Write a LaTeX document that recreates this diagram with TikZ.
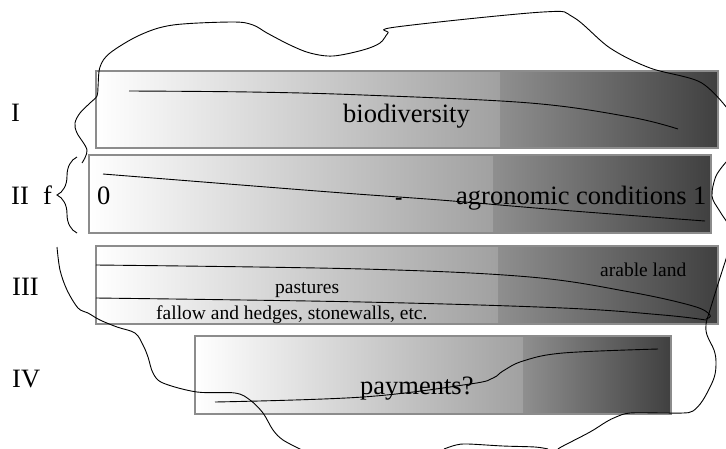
\documentclass[tikz,border=0pt]{standalone}
\usepackage{fontspec}
\setmainfont{Liberation Serif}
\usetikzlibrary{decorations.pathreplacing}
\definecolor{gA}{gray}{0.63}
\definecolor{gB}{gray}{0.56}
\definecolor{gC}{gray}{0.25}
\definecolor{rim}{gray}{0.55}
\tikzset{
  big/.style={font=\fontsize{26.5}{30}\selectfont, inner sep=0pt, anchor=base west},
  small/.style={font=\fontsize{19.5}{22}\selectfont, inner sep=0pt, anchor=base west},
  hand/.style={draw=black, line width=0.9pt, smooth, tension=0.55},
  inner/.style={draw=black, line width=0.9pt, smooth, tension=0.6},
}
\begin{document}
\begin{tikzpicture}[x=1pt,y=-1pt]
\useasboundingbox (0,0) rectangle (726,448);
% gradient bands
\foreach \xa/\ya/\xb/\yb/\xs in {96/71/718/148/500, 89/155/711/233/493, 96/246/718/324/498, 195/336/671/414/523}{
  \shade[left color=white, right color=gA] (\xa,\ya) rectangle (\xs,\yb);
  \shade[left color=gB, right color=gC] (\xs,\ya) rectangle (\xb,\yb);
  \draw[rim, line width=1.1pt] (\xa,\ya) rectangle (\xb,\yb);
}
% inner curves
\draw[inner] plot coordinates {(129,91) (250,92) (363,95) (530,103) (630,117) (678,129)};
\draw[inner] plot coordinates {(103,174) (330,192) (440,200) (560,210) (705,221)};
\draw[inner] plot coordinates {(96,265) (363,269) (530,277) (630,292) (693,306) (710,315) (706,319)};
\draw[inner] plot coordinates {(96,298) (363,302) (563,308) (663,315) (706,320)};
\draw[inner] plot coordinates {(215,402) (363,397) (470,384) (493,378) (503,371) (523,361) (563,353) (658,349)};
% freehand outline
\draw[hand] plot coordinates {(82,163) (87,150) (77,133) (75,123) (80,113) (90,103) (97,96) (98,87) (100,67) (110,53) (140,35) (173,25) (233,22) (253,25) (267,33) (290,45) (310,53) (333,56) (363,50) (380,43) (388,33) (396,27) (543,12) (573,17) (610,48) (650,68) (700,82) (727,108)};
\draw[hand] plot coordinates {(727,161) (716,176) (712,196) (719,210) (727,222)};
\draw[hand] plot coordinates {(727,256) (718,284) (710,310) (706,324) (707,335) (714,350) (716,362) (714,378) (703,400) (693,411) (683,413) (663,413) (630,413) (616,417) (606,422) (590,432) (563,446) (558,449)};
\draw[hand] plot coordinates {(444,449) (456,445) (468,444) (503,446) (535,447) (548,449)};
\draw[hand] plot coordinates {(57,247) (60,270) (67,290) (78,308) (88,313) (100,320) (117,327) (135,333) (143,345) (148,357) (153,373) (163,383) (197,392) (235,393) (250,400) (263,413) (273,430) (283,440) (302,450)};
% brace
\draw[line width=0.9pt, decorate, decoration={brace, amplitude=20pt}] (77,233) -- (77,157);
% labels
\node[big] (lI) at (11,121) {I};
\node[big] (lII) at (11,204) {II};
\node[big] (lf) at (43,204) {f};
\node[big] (lIII) at (12,295) {III};
\node[big] (lIV) at (12,387) {IV};
\node[big] (bio) at (343,122) {biodiversity};
\node[big] (zero) at (97,204) {0};
\node[font=\fontsize{22}{24}\selectfont\bfseries, inner sep=0pt, anchor=base west] (dash) at (395,204) {-};
\node[big] (agro) at (456,204) {agronomic conditions 1};
\node[small] (arable) at (600,276) {arable land};
\node[small] (past) at (275,293) {pastures};
\node[small] (fallow) at (156,319) {fallow and hedges, stonewalls, etc.};
\node[big] (pay) at (360,394) {payments?};
\end{tikzpicture}
\end{document}
